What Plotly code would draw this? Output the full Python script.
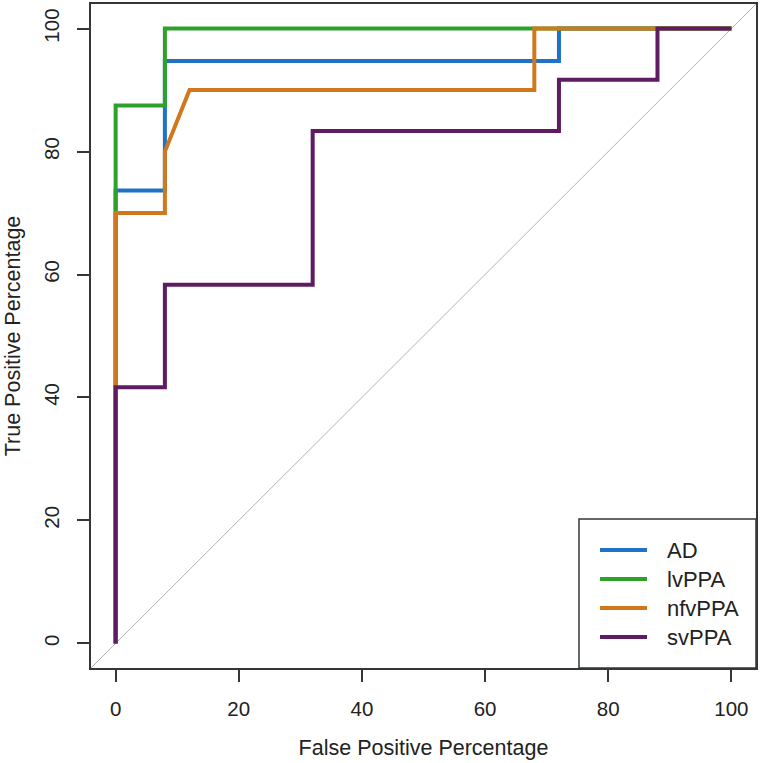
import plotly.graph_objects as go

# ROC curves (False Positive % vs True Positive %)
groups = ["AD", "lvPPA", "nfvPPA", "svPPA"]
colors = ["#1f72c6", "#2ea12a", "#d2781c", "#5f1b62"]

ad_fpr = [0, 0, 8, 8, 72, 72, 100]
ad_tpr = [0, 73.68, 73.68, 94.74, 94.74, 100, 100]

lv_fpr = [0, 0, 8, 8, 100]
lv_tpr = [0, 87.5, 87.5, 100, 100]

nfv_fpr = [0, 0, 8, 8, 12, 68, 68, 100]
nfv_tpr = [0, 70, 70, 80, 90, 90, 100, 100]

sv_fpr = [0, 0, 8, 8, 32, 32, 72, 72, 88, 88, 100]
sv_tpr = [0, 41.67, 41.67, 58.33, 58.33, 83.33, 83.33, 91.67, 91.67, 100, 100]

tick_vals = [0, 20, 40, 60, 80, 100]
axis_range = [-4, 104]

series = [(ad_fpr, ad_tpr), (lv_fpr, lv_tpr), (nfv_fpr, nfv_tpr), (sv_fpr, sv_tpr)]

W, H = 760, 763
ML, MR, MT, MB = 91, 4, 4, 95
PW, PH = W - ML - MR, H - MT - MB


def px_x(p):
    return (p - ML) / PW


def px_y(p):
    return (H - MB - p) / PH


fig = go.Figure()
for name, col, (xs, ys) in zip(groups, colors, series):
    fig.add_trace(go.Scatter(x=xs, y=ys, mode="lines", name=name, showlegend=False,
                             line=dict(color=col, width=4), hoverinfo="x+y+name"))

# chance diagonal
fig.add_shape(type="line", x0=axis_range[0], y0=axis_range[0], x1=axis_range[1], y1=axis_range[1],
              xref="x", yref="y", line=dict(color="#b4b4b4", width=1), layer="below")

axcol = "#333833"
tfont = dict(family="Liberation Sans, Arial, sans-serif", size=21.5, color="#222222")
kfont = dict(family="Liberation Sans, Arial, sans-serif", size=20.5, color="#222222")
lfont = dict(family="Liberation Sans, Arial, sans-serif", size=22, color="#222222")

# legend box (bottom-right, like R's legend())
fig.add_shape(type="rect", xref="paper", yref="paper", x0=px_x(579), x1=1, y0=0, y1=px_y(519),
              line=dict(color=axcol, width=1.5), fillcolor="white", layer="above")
item_y = [550, 579, 608, 637]
for name, col, yy in zip(groups, colors, item_y):
    fig.add_shape(type="line", xref="paper", yref="paper", x0=px_x(600), x1=px_x(647),
                  y0=px_y(yy), y1=px_y(yy), line=dict(color=col, width=4), layer="above")
    fig.add_annotation(xref="paper", yref="paper", x=px_x(665), y=px_y(yy), text=name,
                       showarrow=False, xanchor="left", yanchor="middle", font=lfont)

common = dict(range=axis_range, tickvals=tick_vals, ticks="outside", ticklen=12,
              tickwidth=1.5, tickcolor=axcol, showline=True, linecolor=axcol, linewidth=1.5,
              mirror=True, showgrid=False, zeroline=False, tickfont=kfont)

fig.update_layout(
    width=W, height=H,
    margin=dict(l=ML, r=MR, t=MT, b=MB, autoexpand=False),
    paper_bgcolor="white", plot_bgcolor="white",
    font=kfont,
    xaxis=dict(**common, ticklabelstandoff=10,
               title=dict(text="False Positive Percentage", font=tfont, standoff=21)),
    yaxis=dict(**common, tickangle=-90, ticklabelstandoff=10,
               title=dict(text="True Positive Percentage", font=tfont, standoff=14)),
    showlegend=False,
)

fig.write_html("out.html", config={"displayModeBar": False},
               post_script="document.body.style.margin='0';")
